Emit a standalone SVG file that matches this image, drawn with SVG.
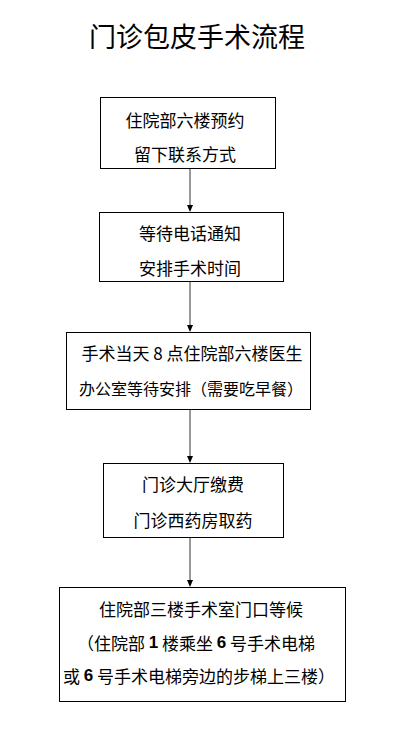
<svg xmlns="http://www.w3.org/2000/svg" width="410" height="753" viewBox="0 0 410 753">
<style>
.box{fill:#fff;stroke:#000;stroke-width:1}
.t{font-family:"Noto Sans CJK SC","Noto Sans",sans-serif;font-size:17px;fill:#000;text-anchor:middle;dominant-baseline:central}
.s{font-size:16px}
.title{font-family:"Noto Sans CJK SC","Noto Sans",sans-serif;font-size:27px;fill:#000;text-anchor:middle;dominant-baseline:central}
.b{font-family:"Liberation Sans",sans-serif;font-weight:bold}
.c{stroke:#333;stroke-width:1;fill:none}
.ah{fill:#000}
</style>
<rect width="410" height="753" fill="#fff"/>
<text class="title" x="197" y="35">门诊包皮手术流程</text>
<g id="connectors">
<line class="c" x1="190" y1="168" x2="190" y2="206"/>
<path class="ah" d="M187,205 L193,205 L190,212 Z"/>
<line class="c" x1="190" y1="281" x2="190" y2="326"/>
<path class="ah" d="M187,325 L193,325 L190,332 Z"/>
<line class="c" x1="190" y1="409" x2="190" y2="457"/>
<path class="ah" d="M187,456 L193,456 L190,463 Z"/>
<line class="c" x1="190" y1="537" x2="190" y2="581"/>
<path class="ah" d="M187,580 L193,580 L190,587 Z"/>
</g>
<g id="node1">
<rect class="box" x="100.5" y="97.5" width="175" height="71"/>
<text class="t" x="185" y="119">住院部六楼预约</text>
<text class="t" x="185" y="153">留下联系方式</text>
</g>
<g id="node2">
<rect class="box" x="99.5" y="212.5" width="184" height="69"/>
<text class="t" x="190" y="232">等待电话通知</text>
<text class="t" x="190" y="267">安排手术时间</text>
</g>
<g id="node3">
<rect class="box" x="66.5" y="332.5" width="244" height="77"/>
<text class="t" x="192" y="352">手术当天 8 点住院部六楼医生</text>
<text class="t s" x="191" y="388">办公室等待安排（需要吃早餐）</text>
</g>
<g id="node4">
<rect class="box" x="103.5" y="463.5" width="180" height="74"/>
<text class="t" x="193" y="483">门诊大厅缴费</text>
<text class="t" x="193" y="519">门诊西药房取药</text>
</g>
<g id="node5">
<rect class="box" x="59.5" y="587.5" width="286" height="114"/>
<text class="t" x="201" y="608">住院部三楼手术室门口等候</text>
<text class="t" x="196" y="642">（住院部 <tspan class="b">1</tspan> 楼乘坐 <tspan class="b">6</tspan> 号手术电梯</text>
<text class="t" x="199" y="675">或 <tspan class="b">6</tspan> 号手术电梯旁边的步梯上三楼）</text>
</g>
</svg>
